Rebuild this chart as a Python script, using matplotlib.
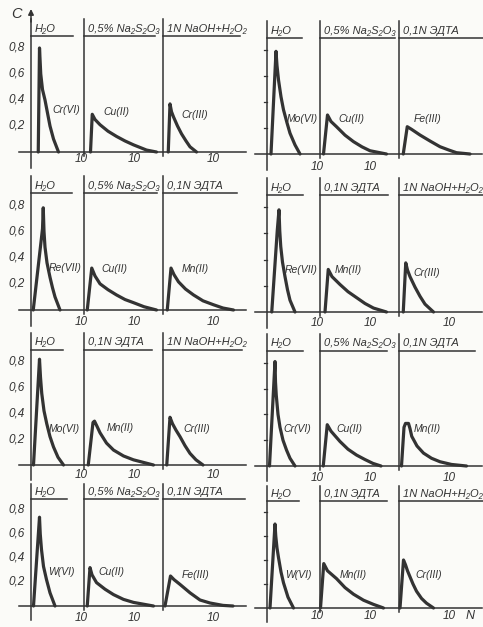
import matplotlib
matplotlib.use("Agg")
import matplotlib.pyplot as plt
import numpy as np

plt.rcParams['font.family'] = ['Liberation Sans', 'DejaVu Sans']

# ---------------- data ----------------
# eluent headers of the three sub-panels of each of the 8 panels
titles = [
    ["H₂O", "0,5% Na₂S₂O₃", "1N NaOH+H₂O₂"],
    ["H₂O", "0,5% Na₂S₂O₃", "0,1N ЭДТА"],
    ["H₂O", "0,5% Na₂S₂O₃", "0,1N ЭДТА"],
    ["H₂O", "0,1N ЭДТА", "1N NaOH+H₂O₂"],
    ["H₂O", "0,1N ЭДТА", "1N NaOH+H₂O₂"],
    ["H₂O", "0,5% Na₂S₂O₃", "0,1N ЭДТА"],
    ["H₂O", "0,5% Na₂S₂O₃", "0,1N ЭДТА"],
    ["H₂O", "0,1N ЭДТА", "1N NaOH+H₂O₂"],
]
species = [
    ["Cr(VI)", "Cu(II)", "Cr(III)"],
    ["Mo(VI)", "Cu(II)", "Fe(III)"],
    ["Re(VII)", "Cu(II)", "Mn(II)"],
    ["Re(VII)", "Mn(II)", "Cr(III)"],
    ["Mo(VI)", "Mn(II)", "Cr(III)"],
    ["Cr(VI)", "Cu(II)", "Mn(II)"],
    ["W(VI)", "Cu(II)", "Fe(III)"],
    ["W(VI)", "Mn(II)", "Cr(III)"],
]
y_ticks = [0.2, 0.4, 0.6, 0.8]
y_tick_labels = ["0,2", "0,4", "0,6", "0,8"]
x_tick_value = 10
x_tick_label = "10"

# elution curves: N (local to each sub-panel) and C
p1_x = [[1.45, 1.7, 1.95, 2.3, 2.8, 3.3, 3.8, 4.5, 5.5],
        [1.3, 1.65, 2.2, 3.2, 4.8, 6.5, 8.2, 9.9, 12.5, 14.5],
        [1.05, 1.4, 1.7, 2.1, 2.9, 3.7, 4.6, 5.4, 6.7]]
p1_y = [[0, 0.80, 0.60, 0.48, 0.40, 0.30, 0.20, 0.10, 0],
        [0, 0.29, 0.25, 0.21, 0.16, 0.12, 0.085, 0.055, 0.015, 0],
        [0, 0.37, 0.31, 0.27, 0.20, 0.14, 0.085, 0.04, 0]]

p2_x = [[0.8, 1.8, 2.0, 2.3, 2.8, 3.3, 4.0, 4.6, 5.6, 6.6],
        [0.7, 1.5, 2.2, 3.3, 5.0, 6.7, 8.4, 10.0, 13.3],
        [0.85, 1.65, 2.5, 4.2, 6.2, 8.2, 10.0, 11.5, 14.2]]
p2_y = [[0, 0.79, 0.68, 0.57, 0.44, 0.34, 0.24, 0.16, 0.07, 0],
        [0, 0.30, 0.25, 0.21, 0.145, 0.095, 0.055, 0.025, 0],
        [0, 0.21, 0.19, 0.146, 0.10, 0.056, 0.03, 0.01, 0]]

p3_x = [[0.45, 2.3, 2.45, 2.6, 2.8, 3.2, 3.8, 4.3, 4.8, 5.8],
        [0.65, 1.55, 2.2, 3.2, 4.8, 6.5, 8.2, 9.9, 12.0, 14.5],
        [0.85, 1.6, 2.2, 3.1, 4.5, 6.1, 8.0, 10.1, 12.0, 14.1]]
p3_y = [[0, 0.62, 0.78, 0.60, 0.48, 0.36, 0.25, 0.17, 0.10, 0],
        [0, 0.32, 0.26, 0.20, 0.155, 0.115, 0.08, 0.056, 0.025, 0],
        [0, 0.32, 0.27, 0.215, 0.16, 0.115, 0.07, 0.04, 0.015, 0]]

p4_x = [[0.95, 2.05, 2.4, 2.55, 2.75, 3.1, 3.6, 4.1, 4.6, 5.6],
        [1.0, 1.65, 2.4, 4.0, 5.6, 7.3, 9.0, 10.7, 13.3],
        [0.85, 1.35, 1.7, 2.2, 3.2, 4.2, 5.2, 6.9]]
p4_y = [[0, 0.62, 0.78, 0.62, 0.50, 0.38, 0.27, 0.17, 0.09, 0],
        [0, 0.325, 0.27, 0.21, 0.155, 0.11, 0.065, 0.03, 0],
        [0, 0.375, 0.32, 0.27, 0.19, 0.12, 0.06, 0]]

p5_x = [[0.5, 1.7, 1.9, 2.15, 2.6, 3.15, 3.8, 4.5, 5.4, 6.5],
        [0.85, 1.8, 2.1, 2.6, 3.2, 4.5, 5.9, 7.9, 9.9, 13.9],
        [0.75, 1.4, 1.9, 2.6, 3.4, 4.4, 5.4, 6.6, 8.0]]
p5_y = [[0, 0.82, 0.68, 0.555, 0.42, 0.32, 0.22, 0.14, 0.06, 0],
        [0, 0.33, 0.34, 0.30, 0.25, 0.17, 0.116, 0.07, 0.04, 0],
        [0, 0.37, 0.32, 0.27, 0.22, 0.15, 0.09, 0.04, 0]]

p6_x = [[0.5, 1.6, 1.7, 1.85, 2.2, 2.6, 3.2, 3.9, 4.6, 5.6],
        [0.65, 1.45, 2.2, 4.0, 5.6, 7.3, 9.0, 10.6, 12.2],
        [0.5, 1.0, 1.3, 1.9, 2.2, 2.55, 3.6, 4.9, 6.5, 8.2, 10.5, 13.5]]
p6_y = [[0, 0.81, 0.65, 0.55, 0.40, 0.30, 0.20, 0.124, 0.06, 0],
        [0, 0.32, 0.27, 0.19, 0.13, 0.085, 0.05, 0.02, 0],
        [0, 0.30, 0.33, 0.33, 0.29, 0.23, 0.155, 0.10, 0.06, 0.033, 0.012, 0]]

p7_x = [[0.5, 1.7, 1.85, 2.1, 2.5, 3.1, 3.8, 4.8],
        [0.65, 1.2, 1.6, 2.5, 4.2, 5.9, 7.9, 9.9, 13.9],
        [0.4, 1.5, 2.2, 3.4, 5.4, 7.4, 9.4, 12.0, 14.0]]
p7_y = [[0, 0.74, 0.60, 0.47, 0.33, 0.22, 0.11, 0],
        [0, 0.32, 0.26, 0.195, 0.14, 0.095, 0.055, 0.03, 0],
        [0, 0.25, 0.22, 0.18, 0.11, 0.05, 0.025, 0.005, 0]]

p8_x = [[0.6, 1.6, 1.75, 2.0, 2.3, 2.8, 3.3, 4.2, 5.3],
        [0.1, 0.75, 1.5, 3.3, 5.0, 6.7, 8.7, 10.7, 12.7],
        [0.2, 0.9, 1.3, 1.7, 2.2, 2.8, 3.5, 4.5, 5.5, 6.9]]
p8_y = [[0, 0.70, 0.60, 0.50, 0.42, 0.30, 0.21, 0.09, 0],
        [0, 0.37, 0.31, 0.245, 0.17, 0.115, 0.065, 0.03, 0],
        [0, 0.40, 0.36, 0.31, 0.26, 0.20, 0.14, 0.08, 0.04, 0]]

curves_x = [p1_x, p2_x, p3_x, p4_x, p5_x, p6_x, p7_x, p8_x]
curves_y = [p1_y, p2_y, p3_y, p4_y, p5_y, p6_y, p7_y, p8_y]

# ---------------- layout ----------------
W, H = 483, 627
INK = '#333333'
PX_PER_N = 5.0
X0 = [31, 267]                     # pixel x of the C axis, left / right column
baseline_px = [152, 154, 310, 312, 465, 466, 606, 608]
unit_px = [130, 130, 131, 131, 129, 129, 120, 120]
offsets = [0, 10.6, 26.4]          # start of each sub-panel (in N units)
XL = (-6, 43.2)
YL = (-0.15, 1.12)
label_pos = [
    [(4.2, 0.32), (3.9, 0.31), (3.7, 0.285)],
    [(3.9, 0.27), (3.7, 0.27), (2.9, 0.27)],
    [(3.5, 0.32), (3.5, 0.31), (3.7, 0.31)],
    [(3.6, 0.32), (3.0, 0.32), (2.9, 0.30)],
    [(3.5, 0.28), (4.5, 0.29), (4.1, 0.28)],
    [(3.3, 0.29), (3.3, 0.29), (2.9, 0.29)],
    [(3.5, 0.28), (2.9, 0.28), (3.7, 0.26)],
    [(3.6, 0.275), (4.0, 0.275), (3.2, 0.275)],
]
header_end = [
    [8.4, 14.2, 15.4], [7.0, 15.0, 16.8], [8.2, 14.6, 14.8], [7.2, 13.6, 16.8],
    [6.4, 13.6, 15.8], [7.2, 13.4, 15.2], [7.2, 14.8, 16.4], [6.4, 13.4, 16.8],
]
tick_label_y = [-0.05, -0.10, -0.09, -0.085, -0.08, -0.09, -0.10, -0.07]
n_xticks = [3, 2, 3, 3, 3, 3, 3, 3]

fig = plt.figure(figsize=(W / 100, H / 100), dpi=100)
fig.patch.set_facecolor('#fbfbf8')

LW_AX = 1.1
LW_C = 2.3
FS_T = 8
FS_L = 7.5

for i in range(8):
    col = i % 2
    b, p = baseline_px[i], unit_px[i]
    left_px = X0[col] + XL[0] * PX_PER_N
    width_px = (XL[1] - XL[0]) * PX_PER_N
    top_px = b - YL[1] * p
    bot_px = b - YL[0] * p
    ax = fig.add_axes([left_px / W, 1 - bot_px / H, width_px / W, (bot_px - top_px) / H])
    ax.set_xlim(XL)
    ax.set_ylim(YL)
    ax.axis('off')

    # baseline
    ax.plot([-2.5, 43.0], [0, 0], color=INK, lw=LW_AX)
    # C axis
    top = 1.02
    ax.plot([0, 0], [-0.12, top], color=INK, lw=LW_AX)
    if i == 0:
        ax.annotate('', xy=(0, 1.10), xytext=(0, 1.0),
                    arrowprops=dict(arrowstyle='-|>', color=INK, lw=LW_AX,
                                    mutation_scale=8, shrinkA=0, shrinkB=0))
        ax.text(-2.8, 1.06, "C", fontsize=10.5, style='italic', color=INK,
                ha='center', va='center')
    if col == 0:
        for v, s in zip(y_ticks, y_tick_labels):
            ax.text(-1.3, v, s, fontsize=8.5, style='italic', color=INK,
                    ha='right', va='center')
    else:
        for v in y_ticks:
            ax.plot([-0.7, 0], [v, v], color=INK, lw=0.9)

    for k in range(3):
        off = offsets[k]
        if k > 0:
            ax.plot([off, off], [-0.03, top], color=INK, lw=LW_AX)
        ax.plot([off, off + header_end[i][k]], [0.89, 0.89], color=INK, lw=LW_AX)
        ax.text(off + 0.8, 0.95, titles[i][k], fontsize=FS_T, style='italic',
                color=INK, ha='left', va='center')
        xs = off + np.array(curves_x[i][k])
        ax.plot(xs, curves_y[i][k], color=INK, lw=LW_C,
                solid_joinstyle='round', solid_capstyle='round')
        lx, ly = label_pos[i][k]
        ax.text(off + lx, ly, species[i][k], fontsize=FS_L, style='italic',
                color=INK, ha='left', va='center')
        if k < n_xticks[i]:
            ax.text(off + x_tick_value, tick_label_y[i], x_tick_label, fontsize=8.5,
                    style='italic', color=INK, ha='center', va='center')
    if i == 7:
        ax.text(40.6, tick_label_y[i], "N", fontsize=9, style='italic', color=INK,
                ha='center', va='center')

fig.savefig("out.png", dpi=100, facecolor=fig.get_facecolor())
